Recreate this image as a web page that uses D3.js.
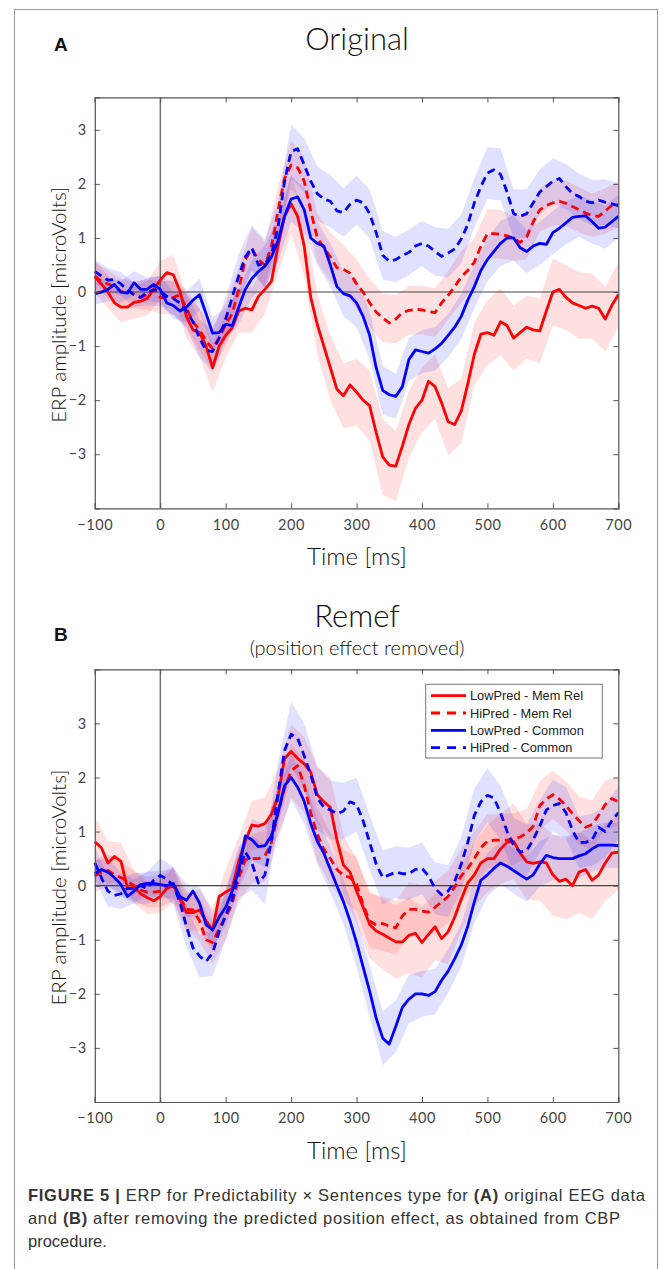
<!DOCTYPE html>
<html><head><meta charset="utf-8">
<script src="https://cdn.jsdelivr.net/npm/d3@7"></script>
<style>
html,body{margin:0;padding:0;background:#fff;}
svg{display:block;}
</style></head>
<body>
<svg id="fig" width="670" height="1269"></svg>
<script>
// ---------- DATA ----------
const timeMs = [-100,-90,-80,-70,-60,-50,-40,-30,-20,-10,0,10,20,30,40,50,60,70,80,90,100,110,120,130,140,150,160,170,180,190,200,210,220,230,240,250,260,270,280,290,300,310,320,330,340,350,360,370,380,390,400,410,420,430,440,450,460,470,480,490,500,510,520,530,540,550,560,570,580,590,600,610,620,630,640,650,660,670,680,690,700];
const xTicks = [-100,0,100,200,300,400,500,600,700];
const yTicks = [-3,-2,-1,0,1,2,3];
const seriesNames = ["LowPred - Mem Rel","HiPred - Mem Rel","LowPred - Common","HiPred - Common"];

// Panel A (Original)
const origLowMem = [0.28,0.15,0.0,-0.2,-0.28,-0.28,-0.19,-0.17,-0.12,0.05,
 0.22,0.36,0.32,0.02,-0.45,-0.7,-0.75,-1.0,-1.4,-1.0,
 -0.8,-0.66,-0.35,-0.3,-0.33,-0.08,0.05,0.2,0.85,1.4,
 1.63,1.4,0.85,-0.1,-0.6,-1.0,-1.4,-1.8,-1.92,-1.72,
 -1.85,-2.0,-2.1,-2.6,-3.05,-3.2,-3.22,-2.85,-2.45,-2.15,
 -2.0,-1.65,-1.75,-2.05,-2.4,-2.45,-2.2,-1.7,-1.15,-0.78,
 -0.75,-0.8,-0.55,-0.62,-0.85,-0.75,-0.65,-0.7,-0.72,-0.35,
 0.0,0.05,-0.1,-0.2,-0.25,-0.3,-0.26,-0.3,-0.5,-0.25,
 -0.05];
const origHiMem = [0.3,0.2,0.15,0.1,0.0,0.05,-0.05,-0.1,-0.05,0.05,
 -0.1,-0.12,-0.1,-0.05,-0.3,-0.55,-0.7,-0.9,-1.05,-0.85,
 -0.6,-0.4,0.05,0.6,0.8,0.6,0.5,0.85,1.5,2.1,
 2.35,2.3,2.05,1.5,1.0,0.82,0.65,0.45,0.42,0.35,
 0.15,0.0,-0.2,-0.37,-0.48,-0.57,-0.5,-0.38,-0.34,-0.32,
 -0.33,-0.36,-0.38,-0.2,-0.06,0.1,0.28,0.4,0.55,0.85,
 1.08,1.08,1.07,1.04,1.0,0.92,1.02,1.3,1.52,1.6,
 1.65,1.68,1.64,1.58,1.52,1.46,1.42,1.4,1.5,1.6,
 1.62];
const origLowCom = [-0.03,0.0,0.05,0.14,0.0,-0.02,0.17,0.05,0.05,0.14,
 0.05,-0.2,-0.25,-0.35,-0.28,-0.15,-0.05,-0.4,-0.76,-0.75,
 -0.6,-0.62,-0.28,0.05,0.25,0.38,0.48,0.65,0.95,1.4,
 1.72,1.76,1.52,1.0,0.9,0.85,0.5,0.1,-0.03,-0.07,
 -0.2,-0.45,-0.8,-1.4,-1.82,-1.9,-1.93,-1.75,-1.25,-1.07,
 -1.1,-1.13,-1.05,-0.95,-0.8,-0.65,-0.45,-0.15,0.1,0.4,
 0.6,0.75,0.9,1.0,1.0,0.82,0.75,0.85,0.9,0.88,
 1.1,1.18,1.28,1.38,1.4,1.41,1.3,1.18,1.2,1.3,
 1.4];
const origHiCom = [0.38,0.3,0.22,0.23,0.15,0.03,-0.05,-0.1,0.0,0.04,
 0.02,-0.08,-0.12,-0.2,-0.35,-0.55,-0.85,-1.08,-1.1,-0.85,
 -0.5,-0.1,0.3,0.65,0.82,0.5,0.52,0.7,1.2,2.05,
 2.6,2.65,2.35,2.05,1.82,1.72,1.68,1.5,1.47,1.62,
 1.7,1.65,1.45,1.1,0.68,0.57,0.6,0.68,0.73,0.85,
 0.9,0.85,0.75,0.66,0.72,0.8,0.98,1.25,1.65,1.95,
 2.2,2.26,2.18,1.85,1.45,1.4,1.45,1.65,1.85,1.95,
 2.05,2.1,1.95,1.82,1.77,1.68,1.65,1.7,1.66,1.63,
 1.6];
// half-widths of the shaded bands, every 20 ms (-100 ... 700)
const origLowMemSem = [0.3,0.3,0.28,0.3,0.32,0.35, 0.38,0.4,0.45,0.45,0.42,0.4,0.42,0.45,0.5,0.55, 0.55,0.55,0.6,0.6,0.62,0.65,0.7,0.65,0.62,0.6, 0.6,0.62,0.6,0.58,0.6,0.62,0.6,0.58,0.6,0.62, 0.6,0.62,0.6,0.6,0.6];
const origHiMemSem = [0.25,0.25,0.25,0.25,0.28,0.3, 0.32,0.35,0.38,0.4,0.4,0.4,0.4,0.42,0.45,0.45, 0.45,0.45,0.45,0.45,0.45,0.45,0.45,0.45,0.45,0.45, 0.45,0.45,0.48,0.45,0.45,0.45,0.42,0.42,0.4,0.42, 0.42,0.42,0.4,0.42,0.42];
const origLowComSem = [0.2,0.22,0.2,0.22,0.22,0.25, 0.25,0.28,0.3,0.3,0.3,0.32,0.35,0.38,0.4,0.42, 0.42,0.4,0.4,0.42,0.45,0.45,0.45,0.42,0.4,0.4, 0.4,0.4,0.42,0.4,0.4,0.42,0.42,0.4,0.4,0.4, 0.4,0.38,0.4,0.4,0.4];
const origHiComSem = [0.22,0.22,0.22,0.22,0.25,0.28, 0.3,0.32,0.35,0.38,0.4,0.4,0.42,0.45,0.48,0.5, 0.5,0.5,0.48,0.45,0.45,0.45,0.45,0.42,0.42,0.42, 0.45,0.45,0.45,0.45,0.48,0.48,0.45,0.45,0.42,0.42, 0.42,0.42,0.42,0.42,0.42];

// Panel B (Remef)
const remefLowMem = [0.81,0.7,0.42,0.54,0.45,-0.05,-0.03,-0.15,-0.22,-0.28,
 -0.2,-0.05,0.0,-0.25,-0.5,-0.5,-0.45,-0.65,-0.82,-0.2,
 -0.12,-0.05,0.45,0.82,1.12,1.1,1.15,1.32,1.65,2.35,
 2.48,2.35,2.25,2.1,1.68,1.55,1.45,0.85,0.38,0.25,
 -0.1,-0.4,-0.72,-0.84,-0.9,-0.97,-1.04,-1.04,-0.92,-0.88,
 -1.05,-0.9,-0.76,-0.98,-0.85,-0.58,-0.25,0.05,0.2,0.42,
 0.5,0.5,0.68,0.8,0.82,0.6,0.44,0.41,0.44,0.42,
 0.2,0.08,0.12,0.0,0.25,0.3,0.1,0.2,0.42,0.6,
 0.62];
const remefHiMem = [0.18,0.25,0.28,0.2,0.15,0.08,0.0,-0.08,-0.12,-0.12,
 -0.1,-0.02,0.04,-0.22,-0.44,-0.45,-0.65,-1.0,-1.05,-0.8,
 -0.58,-0.33,0.15,0.48,0.5,0.5,0.55,0.8,1.35,1.8,
 2.12,2.22,1.85,1.35,0.95,0.67,0.5,0.3,0.19,0.15,
 0.03,-0.35,-0.65,-0.73,-0.7,-0.75,-0.78,-0.56,-0.44,-0.44,
 -0.47,-0.49,-0.4,-0.3,-0.2,-0.02,0.18,0.32,0.5,0.7,
 0.82,0.84,0.84,0.84,0.86,0.9,0.97,1.1,1.48,1.6,
 1.68,1.6,1.48,1.33,1.2,1.08,1.13,1.3,1.5,1.61,
 1.55];
const remefLowCom = [0.22,0.3,0.25,0.15,0.02,-0.2,-0.1,0.02,0.04,0.04,
 0.02,0.0,0.04,-0.2,-0.27,-0.1,-0.32,-0.72,-0.82,-0.58,
 -0.4,-0.1,0.28,0.92,0.85,0.72,0.74,0.92,1.35,1.85,
 2.0,1.82,1.56,1.15,0.82,0.6,0.3,0.0,-0.3,-0.65,
 -1.05,-1.5,-1.95,-2.45,-2.82,-2.93,-2.6,-2.25,-2.1,-2.0,
 -2.0,-2.03,-1.96,-1.75,-1.58,-1.35,-1.1,-0.75,-0.3,0.1,
 0.2,0.32,0.42,0.36,0.28,0.2,0.12,0.2,0.4,0.56,
 0.52,0.5,0.5,0.5,0.55,0.59,0.68,0.75,0.75,0.75,
 0.74];
const remefHiCom = [0.42,0.15,-0.1,-0.18,-0.15,-0.05,-0.05,0.0,-0.05,0.1,
 0.19,0.12,0.0,-0.3,-0.75,-1.15,-1.3,-1.4,-1.25,-0.85,
 -0.55,-0.25,0.25,0.62,0.42,0.05,0.2,0.85,1.7,2.5,
 2.8,2.72,2.4,2.05,1.62,1.45,1.4,1.33,1.38,1.55,
 1.5,1.2,0.8,0.4,0.15,0.2,0.25,0.22,0.22,0.3,
 0.32,0.18,-0.05,-0.17,-0.1,0.08,0.4,0.8,1.3,1.55,
 1.67,1.62,1.35,1.0,0.75,0.62,0.65,0.85,1.1,1.4,
 1.48,1.52,1.35,1.02,0.8,0.8,0.85,1.08,1.0,1.2,
 1.35];
const remefLowMemSem = [0.45,0.4,0.35,0.3,0.3,0.3, 0.32,0.35,0.38,0.4,0.42,0.45,0.45,0.48,0.5,0.5, 0.5,0.52,0.55,0.55,0.6,0.62,0.65,0.68,0.7,0.65, 0.62,0.6,0.6,0.6,0.62,0.65,0.7,0.7,0.72,0.75, 0.75,0.75,0.72,0.7,0.7];
const remefHiMemSem = [0.3,0.3,0.28,0.28,0.28,0.3, 0.32,0.35,0.38,0.4,0.42,0.45,0.45,0.48,0.5,0.5, 0.5,0.5,0.48,0.48,0.5,0.5,0.5,0.5,0.5,0.48, 0.48,0.48,0.5,0.5,0.5,0.48,0.48,0.45,0.45,0.45, 0.45,0.45,0.45,0.45,0.45];
const remefLowComSem = [0.25,0.25,0.22,0.22,0.22,0.25, 0.28,0.3,0.3,0.32,0.35,0.35,0.38,0.4,0.42,0.42, 0.42,0.42,0.42,0.42,0.45,0.48,0.5,0.48,0.45,0.42, 0.42,0.4,0.4,0.4,0.4,0.4,0.42,0.42,0.42,0.42, 0.42,0.42,0.42,0.42,0.42];
const remefHiComSem = [0.3,0.28,0.28,0.28,0.3,0.32, 0.35,0.38,0.4,0.42,0.45,0.48,0.5,0.55,0.58,0.6, 0.6,0.58,0.55,0.52,0.5,0.5,0.5,0.48,0.48,0.48, 0.48,0.48,0.5,0.5,0.5,0.5,0.5,0.48,0.48,0.48, 0.48,0.48,0.48,0.48,0.48];

// ---------- STYLE / LAYOUT ----------
const RED = "#ff0000", BLUE = "#0000ff";
const styles = [
  {color: RED, dash: null},
  {color: RED, dash: "8,5"},
  {color: BLUE, dash: null},
  {color: BLUE, dash: "8,5"}
];
const plotLeft = 94.8, plotRight = 618.3;
const panels = [
  {letter:"A", title:"Original", subtitle:null, top:97.4, bottom:508.3, yDomain:[-4,3.6],
   titleY:50, letterY:51, means:[origLowMem, origHiMem, origLowCom, origHiCom],
   sems:[origLowMemSem, origHiMemSem, origLowComSem, origHiComSem], legend:false},
  {letter:"B", title:"Remef", subtitle:"(position effect removed)", top:669.3, bottom:1102, yDomain:[-4,4],
   titleY:627, letterY:641, means:[remefLowMem, remefHiMem, remefLowCom, remefHiCom],
   sems:[remefLowMemSem, remefHiMemSem, remefLowComSem, remefHiComSem], legend:true}
];

const svg = d3.select("#fig");
svg.append("rect").attr("x",14.5).attr("y",9.5).attr("width",643).attr("height",1275)
  .attr("fill","none").attr("stroke","#9a9a9a").attr("stroke-width",1);

const x = d3.scaleLinear().domain([-100,700]).range([plotLeft, plotRight]);
const semTime = timeMs.filter((t,i)=> i % 2 === 0);
const AX = "#555";
const tickFont = "Lato, 'Open Sans', sans-serif";

panels.forEach(p => {
  const y = d3.scaleLinear().domain(p.yDomain).range([p.bottom, p.top]);
  const g = svg.append("g");

  // titles
  g.append("text").attr("x",357).attr("y",p.titleY).attr("text-anchor","middle")
    .attr("font-family",tickFont).attr("font-weight",300).attr("font-size",31).attr("fill","#111").text(p.title);
  if (p.subtitle) g.append("text").attr("x",357).attr("y",655).attr("text-anchor","middle")
    .attr("font-family",tickFont).attr("font-weight",300).attr("font-size",20).attr("fill","#111").text(p.subtitle);
  g.append("text").attr("x",54).attr("y",p.letterY)
    .attr("font-family","'Liberation Sans', Arial, sans-serif").attr("font-weight","bold").attr("font-size",19).attr("fill","#111").text(p.letter);

  // bands
  p.means.forEach((m,k) => {
    const pts = semTime.map((t,i) => ({t, lo: m[i*2] - p.sems[k][i], hi: m[i*2] + p.sems[k][i]}));
    g.append("path").datum(pts)
      .attr("d", d3.area().x(d=>x(d.t)).y0(d=>y(d.lo)).y1(d=>y(d.hi)))
      .attr("fill", styles[k].color).attr("fill-opacity", 0.12).attr("stroke","none");
  });

  // zero lines
  g.append("line").attr("x1",x(-100)).attr("x2",x(700)).attr("y1",y(0)).attr("y2",y(0)).attr("stroke","#444").attr("stroke-width",1.1);
  g.append("line").attr("x1",x(0)).attr("x2",x(0)).attr("y1",p.top).attr("y2",p.bottom).attr("stroke","#444").attr("stroke-width",1.1);

  // lines
  p.means.forEach((m,k) => {
    g.append("path").datum(timeMs.map((t,i)=>({t, v:m[i]})))
      .attr("d", d3.line().x(d=>x(d.t)).y(d=>y(d.v)))
      .attr("fill","none").attr("stroke",styles[k].color).attr("stroke-width",2.8)
      .attr("stroke-linejoin","round")
      .attr("stroke-dasharray", styles[k].dash);
  });

  // axes (box with inward ticks)
  const axB = g.append("g").attr("transform",`translate(0,${p.bottom})`)
    .call(d3.axisBottom(x).tickValues(xTicks).tickSize(-5).tickPadding(11).tickFormat(d3.format("d")));
  const axT = g.append("g").attr("transform",`translate(0,${p.top})`)
    .call(d3.axisTop(x).tickValues(xTicks).tickSize(-5).tickFormat(""));
  const axL = g.append("g").attr("transform",`translate(${plotLeft},0)`)
    .call(d3.axisLeft(y).tickValues(yTicks).tickSize(-5).tickPadding(8).tickFormat(d3.format("d")));
  const axR = g.append("g").attr("transform",`translate(${plotRight},0)`)
    .call(d3.axisRight(y).tickValues(yTicks).tickSize(-5).tickFormat(""));
  [axB,axT,axL,axR].forEach(a => {
    a.select(".domain").attr("stroke",AX).attr("stroke-width",1.2);
    a.selectAll(".tick line").attr("stroke",AX);
    a.selectAll("text").attr("font-family",tickFont).attr("font-size",14.5).attr("letter-spacing",0.6).attr("fill","#444");
  });

  // axis labels
  g.append("text").attr("x",357).attr("y",p.bottom+57).attr("text-anchor","middle")
    .attr("font-family",tickFont).attr("font-weight",300).attr("font-size",24).attr("fill","#111").text("Time [ms]");
  g.append("text").attr("transform",`translate(66,${(p.top+p.bottom)/2 + 2}) rotate(-90)`).attr("text-anchor","middle")
    .attr("font-family",tickFont).attr("font-weight",300).attr("font-size",20.5).attr("fill","#111").text("ERP amplitude [microVolts]");

  // legend
  if (p.legend) {
    const lg = g.append("g");
    lg.append("rect").attr("x",425.7).attr("y",684.3).attr("width",176.6).attr("height",73.7)
      .attr("fill","#fff").attr("stroke","#777").attr("stroke-width",1);
    seriesNames.forEach((name,k) => {
      const yy = 695.7 + k*17.3;
      lg.append("line").attr("x1",431).attr("x2",466).attr("y1",yy).attr("y2",yy)
        .attr("stroke",styles[k].color).attr("stroke-width",2.8).attr("stroke-dasharray",styles[k].dash ? "9,7" : null);
      lg.append("text").attr("x",470).attr("y",yy+4.5).attr("font-family","'Liberation Sans', Arial, sans-serif")
        .attr("font-size",12.8).attr("fill","#222").text(name);
    });
  }
});

// caption
const cap = svg.append("g").attr("font-family","'Liberation Sans Narrow', 'Liberation Sans', Arial, sans-serif").attr("font-size",16.5).attr("fill","#333");
const capLines = [
  {parts:[["FIGURE 5 | ",true],["ERP for Predictability × Sentences type for ",false],["(A)",true],[" original EEG data",false]], len:617},
  {parts:[["and ",false],["(B)",true],[" after removing the predicted position effect, as obtained from CBP",false]], len:592},
  {parts:[["procedure.",false]], len:null}
];
capLines.forEach((ln,i) => {
  const t = cap.append("text").attr("x",28).attr("y",1201 + i*23);
  if (ln.len) t.attr("textLength", ln.len).attr("lengthAdjust","spacing");
  ln.parts.forEach(([s,b]) => t.append("tspan").attr("font-weight", b ? "bold" : null).text(s));
});
</script>
</body></html>
